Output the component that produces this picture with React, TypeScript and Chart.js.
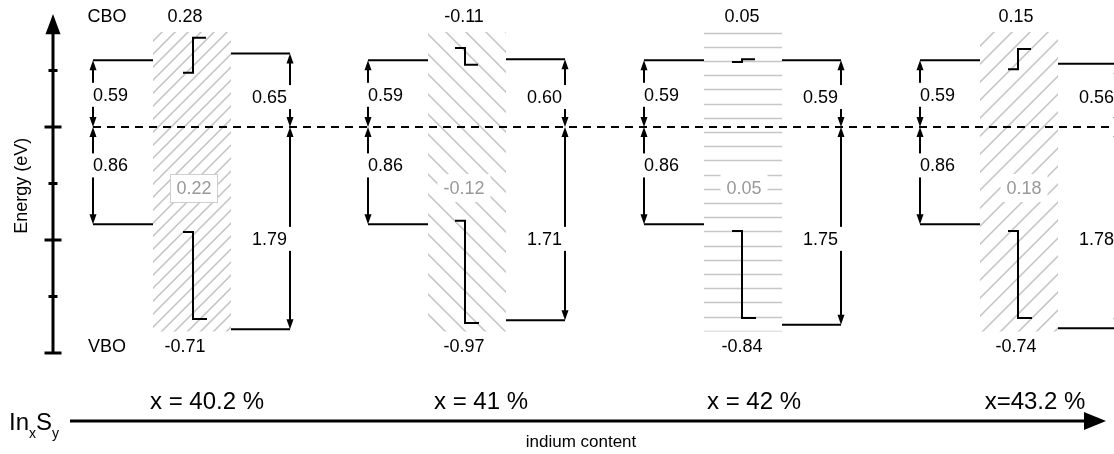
import React, { useEffect, useRef } from 'react';
import { Chart, registerables } from 'chart.js';
Chart.register(...registerables);

// ---------- data ----------
const compositions = ['x = 40.2 %', 'x = 41 %', 'x = 42 %', 'x=43.2 %'];
const cboValues = [0.28, -0.11, 0.05, 0.15];
const vboValues = [-0.71, -0.97, -0.84, -0.74];
const bufferValues = [0.22, -0.12, 0.05, 0.18];
const leftCB = [0.59, 0.59, 0.59, 0.59];
const leftVB = [0.86, 0.86, 0.86, 0.86];
const rightCB = [0.65, 0.6, 0.59, 0.56];
const rightVB = [1.79, 1.71, 1.75, 1.78];
// schematic offset steps drawn inside the buffer (eV)
const cbStepFrom = [0.48, 0.7, 0.575, 0.51];
const cbStepTo = [0.79, 0.55, 0.6, 0.69];
const vbStepFrom = [-0.93, -0.83, -0.92, -0.92];
const vbStepTo = [-1.7, -1.735, -1.69, -1.69];
const majorTicks = [0, -1, -2];
const minorTicks = [0.5, -0.5, -1.5];

// ---------- layout ----------
const W = 1114;
const H = 454;
const PX_PER_EV = 113;
const ZERO_PX = 127;
const Y_MAX = ZERO_PX / PX_PER_EV;
const Y_MIN = -(H - ZERO_PX) / PX_PER_EV;
const panelX = [93, 368, 644, 920];
const HATCH_L = 60;
const HATCH_R = 138;
const ARROW_R = 197;
const stepX = [193, 465, 742, 1018];
const topLabelX = [185, 464, 742, 1016];
const midLabelX = [194, 464, 744, 1024];
const compLabelX = [207, 481, 754, 1035];
const hatchKind = ['/', '\\', '-', '/'];
const hatchGap = [13, 20, 14.2, 18];
const HATCH_TOP = 0.84;
const HATCH_BOTTOM = -1.81;
const AXIS_X = 53;
const FONT = '"Liberation Sans", Arial, sans-serif';

const line = (pts: { x: number; y: number }[], extra: any = {}) => ({
  data: pts,
  showLine: true,
  pointRadius: 0,
  borderColor: '#000',
  borderWidth: 2,
  fill: false,
  tension: 0,
  ...extra,
});

function buildDatasets() {
  const ds: any[] = [];
  ds.push(
    line(
      [
        { x: panelX[0], y: 0 },
        { x: W, y: 0 },
      ],
      { borderDash: [8, 6], borderWidth: 2 }
    )
  );
  panelX.forEach((p, i) => {
    ds.push(line([{ x: p, y: leftCB[i] }, { x: p + HATCH_L, y: leftCB[i] }]));
    ds.push(line([{ x: p, y: -leftVB[i] }, { x: p + HATCH_L, y: -leftVB[i] }]));
    ds.push(line([{ x: p + HATCH_R, y: rightCB[i] }, { x: p + ARROW_R, y: rightCB[i] }]));
    ds.push(line([{ x: p + HATCH_R, y: -rightVB[i] }, { x: p + ARROW_R, y: -rightVB[i] }]));
    const s = stepX[i];
    ds.push(
      line([
        { x: s - 10, y: cbStepFrom[i] },
        { x: s, y: cbStepFrom[i] },
        { x: s, y: cbStepTo[i] },
        { x: s + 13, y: cbStepTo[i] },
      ])
    );
    ds.push(
      line([
        { x: s - 10, y: vbStepFrom[i] },
        { x: s, y: vbStepFrom[i] },
        { x: s, y: vbStepTo[i] },
        { x: s + 14, y: vbStepTo[i] },
      ])
    );
  });
  return ds;
}

const fmt = (v: number) => v.toFixed(2);

const bandPlugin = {
  id: 'bandPlugin',
  beforeDatasetsDraw(chart: any) {
    const ctx = chart.ctx as CanvasRenderingContext2D;
    const xs = chart.scales.x;
    const ys = chart.scales.y;
    const X = (v: number) => xs.getPixelForValue(v);
    const Y = (v: number) => ys.getPixelForValue(v);
    panelX.forEach((p, i) => {
      const x0 = X(p + HATCH_L);
      const x1 = X(p + HATCH_R);
      const y0 = Y(HATCH_TOP);
      const y1 = Y(HATCH_BOTTOM);
      ctx.save();
      ctx.beginPath();
      ctx.rect(x0, y0, x1 - x0, y1 - y0);
      ctx.clip();
      ctx.strokeStyle = '#c6c6c6';
      ctx.lineWidth = 1.6;
      const g = hatchGap[i];
      const w = x1 - x0;
      const L = 500;
      ctx.beginPath();
      if (hatchKind[i] === '-') {
        for (let y = y0 + 0.5; y <= y1 + 1; y += g) {
          ctx.moveTo(x0, Math.round(y) + 0.5);
          ctx.lineTo(x1, Math.round(y) + 0.5);
        }
      } else if (hatchKind[i] === '/') {
        for (let c = y0 - 4; c <= y1 + w + g; c += g) {
          ctx.moveTo(x0 - L, c + L);
          ctx.lineTo(x0 + L, c - L);
        }
      } else {
        for (let c = y0 - w - g; c <= y1 + g; c += g) {
          ctx.moveTo(x0 - L, c - L);
          ctx.lineTo(x0 + L, c + L);
        }
      }
      ctx.stroke();
      ctx.restore();

      // grey buffer label with white box
      ctx.save();
      ctx.font = `18px ${FONT}`;
      const t = fmt(bufferValues[i]);
      const tw = ctx.measureText(t).width;
      const cx = X(midLabelX[i]);
      const cy = Y(-0.54);
      ctx.fillStyle = '#fff';
      const bw = tw + 12;
      const bh = 28;
      ctx.fillRect(cx - bw / 2, cy - bh / 2, bw, bh);
      if (i === 0) {
        ctx.strokeStyle = '#cfcfcf';
        ctx.lineWidth = 1;
        ctx.strokeRect(Math.round(cx - bw / 2) + 0.5, Math.round(cy - bh / 2) + 0.5, Math.round(bw), bh);
      }
      ctx.fillStyle = '#999';
      ctx.textAlign = 'center';
      ctx.textBaseline = 'middle';
      ctx.fillText(t, cx, cy + 1);
      ctx.restore();
    });
  },
  afterDatasetsDraw(chart: any) {
    const ctx = chart.ctx as CanvasRenderingContext2D;
    const xs = chart.scales.x;
    const ys = chart.scales.y;
    const X = (v: number) => xs.getPixelForValue(v);
    const Y = (v: number) => ys.getPixelForValue(v);

    const head = (x: number, tipY: number, dir: number) => {
      // dir = -1 : pointing up, 1 : pointing down
      ctx.beginPath();
      ctx.moveTo(x, tipY);
      ctx.lineTo(x - 3.5, tipY - dir * 10);
      ctx.lineTo(x + 3.5, tipY - dir * 10);
      ctx.closePath();
      ctx.fill();
    };
    const dimArrow = (xv: number, eA: number, eB: number) => {
      const x = Math.round(X(xv)) + 0.0;
      const ya = Y(eA);
      const yb = Y(eB);
      const top = Math.min(ya, yb);
      const bot = Math.max(ya, yb);
      ctx.beginPath();
      ctx.moveTo(x, top + 4);
      ctx.lineTo(x, bot - 4);
      ctx.stroke();
      head(x, top, -1);
      head(x, bot, 1);
    };
    const boxed = (t: string, xv: number, e: number, align: 'left' | 'right' | 'center') => {
      ctx.font = `18px ${FONT}`;
      const tw = ctx.measureText(t).width;
      const x = X(xv);
      const y = Y(e);
      let left = x;
      if (align === 'right') left = x - tw;
      if (align === 'center') left = x - tw / 2;
      ctx.fillStyle = '#fff';
      ctx.fillRect(left - 4, y - 12, tw + 8, 24);
      ctx.fillStyle = '#000';
      ctx.textAlign = align;
      ctx.textBaseline = 'middle';
      ctx.fillText(t, x, y + 1);
    };

    ctx.save();
    ctx.fillStyle = '#000';
    ctx.strokeStyle = '#000';
    ctx.lineWidth = 2;
    panelX.forEach((p, i) => {
      dimArrow(p, leftCB[i], 0);
      dimArrow(p, 0, -leftVB[i]);
      dimArrow(p + ARROW_R, rightCB[i], 0);
      dimArrow(p + ARROW_R, 0, -rightVB[i]);
    });
    panelX.forEach((p, i) => {
      boxed(fmt(leftCB[i]), p, 0.285, 'left');
      boxed(fmt(leftVB[i]), p, -0.34, 'left');
      boxed(fmt(rightCB[i]), p + ARROW_R - 3, 0.265, 'right');
      boxed(fmt(rightVB[i]), p + ARROW_R - 3, -0.99, 'right');
      ctx.fillStyle = '#000';
      ctx.font = `18px ${FONT}`;
      ctx.textAlign = 'center';
      ctx.textBaseline = 'middle';
      ctx.fillText(fmt(cboValues[i]), X(topLabelX[i]), Y(0.97));
      ctx.fillText(fmt(vboValues[i]), X(topLabelX[i]), Y(-1.95));
    });
    ctx.fillStyle = '#000';
    ctx.font = `18px ${FONT}`;
    ctx.textAlign = 'center';
    ctx.textBaseline = 'middle';
    ctx.fillText('CBO', X(panelX[0] + 14), Y(0.97));
    ctx.fillText('VBO', X(panelX[0] + 14), Y(-1.95));

    // energy axis
    const ax = X(AXIS_X);
    ctx.lineWidth = 3;
    ctx.beginPath();
    ctx.moveTo(ax, Y(-2));
    ctx.lineTo(ax, Y(0.84));
    ctx.stroke();
    ctx.beginPath();
    ctx.moveTo(ax, Y(1.0));
    ctx.lineTo(ax - 7.5, Y(0.82));
    ctx.lineTo(ax + 7.5, Y(0.82));
    ctx.closePath();
    ctx.fill();
    majorTicks.forEach((t) => {
      ctx.beginPath();
      ctx.moveTo(ax - 8.5, Y(t));
      ctx.lineTo(ax + 8.5, Y(t));
      ctx.stroke();
    });
    minorTicks.forEach((t) => {
      ctx.beginPath();
      ctx.moveTo(ax - 4.5, Y(t));
      ctx.lineTo(ax + 4.5, Y(t));
      ctx.stroke();
    });
    ctx.save();
    ctx.translate(X(22), Y(-0.52));
    ctx.rotate(-Math.PI / 2);
    ctx.font = `18px ${FONT}`;
    ctx.textAlign = 'center';
    ctx.textBaseline = 'middle';
    ctx.fillText('Energy (eV)', 0, 0);
    ctx.restore();

    // composition axis
    const by = Y(-2.602);
    ctx.lineWidth = 3;
    ctx.beginPath();
    ctx.moveTo(X(70), by);
    ctx.lineTo(X(1088), by);
    ctx.stroke();
    ctx.beginPath();
    ctx.moveTo(X(1106), by);
    ctx.lineTo(X(1084), by - 9);
    ctx.lineTo(X(1084), by + 9);
    ctx.closePath();
    ctx.fill();
    ctx.font = `24px ${FONT}`;
    ctx.textAlign = 'center';
    ctx.textBaseline = 'middle';
    compositions.forEach((c, i) => ctx.fillText(c, X(compLabelX[i]), Y(-2.434)));
    ctx.font = `17px ${FONT}`;
    ctx.fillText('indium content', X(581), Y(-2.79));

    // In_x S_y
    ctx.textAlign = 'left';
    ctx.textBaseline = 'alphabetic';
    const base = Y(-2.681);
    const subBase = base + 8;
    let cx = X(9);
    ctx.font = `24px ${FONT}`;
    ctx.fillText('In', cx, base);
    cx += ctx.measureText('In').width;
    ctx.font = `14px ${FONT}`;
    ctx.fillText('x', cx, subBase);
    cx += ctx.measureText('x').width;
    ctx.font = `24px ${FONT}`;
    ctx.fillText('S', cx, base);
    cx += ctx.measureText('S').width;
    ctx.font = `14px ${FONT}`;
    ctx.fillText('y', cx, subBase);
    ctx.restore();
  },
};

export default function App() {
  const ref = useRef<HTMLCanvasElement | null>(null);
  useEffect(() => {
    if (!ref.current) return;
    const chart = new Chart(ref.current, {
      type: 'scatter',
      data: { datasets: buildDatasets() },
      options: {
        responsive: false,
        maintainAspectRatio: false,
        animation: false,
        devicePixelRatio: 1,
        events: [],
        layout: { padding: 0 },
        plugins: { legend: { display: false }, tooltip: { enabled: false } },
        scales: {
          x: { type: 'linear', min: 0, max: W, display: false },
          y: { type: 'linear', min: Y_MIN, max: Y_MAX, display: false },
        },
      } as any,
      plugins: [bandPlugin],
    });
    return () => chart.destroy();
  }, []);
  return (
    <div style={{ position: 'fixed', left: 0, top: 0, width: W, height: H, background: '#fff' }}>
      <canvas ref={ref} width={W} height={H} style={{ display: 'block' }} />
    </div>
  );
}
